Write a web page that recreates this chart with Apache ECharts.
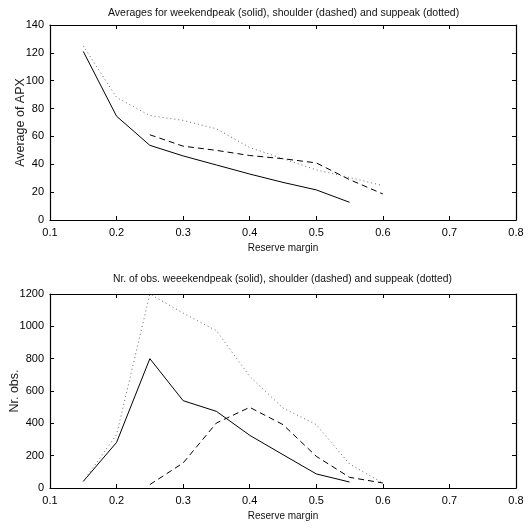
<!DOCTYPE html>
<html><head><meta charset="utf-8">
<script src="https://cdn.jsdelivr.net/npm/echarts@6/dist/echarts.min.js"></script>
<style>html,body{margin:0;padding:0;background:#fff}#c{width:530px;height:528px}</style>
</head><body><div id="c"></div>
<script>
const titleTop = "Averages for weekendpeak (solid), shoulder (dashed) and suppeak (dotted)";
const titleBottom = "Nr. of obs. weeekendpeak (solid), shoulder (dashed) and suppeak (dotted)";
const xName = "Reserve margin";
const yNameTop = "Average of APX";
const yNameBottom = "Nr. obs.";

const avgWeekendX = [0.15,0.2,0.25,0.3,0.35,0.4,0.45,0.5,0.55];
const avgWeekend  = [121,74.5,53.6,46,39.5,33,27,21.6,12.7];
const avgShoulderX = [0.25,0.3,0.35,0.4,0.45,0.5,0.55,0.6];
const avgShoulder  = [61.2,53,50,46.3,44,41,29,18.7];
const avgSuppeakX = [0.15,0.2,0.25,0.3,0.35,0.4,0.45,0.5,0.55,0.6];
const avgSuppeak  = [125,88,75,71.5,65.5,52,44,36,30.5,24.7];

const obsWeekendX = [0.15,0.2,0.25,0.3,0.35,0.4,0.45,0.5,0.55];
const obsWeekend  = [41,282,800,540,474,326,206,87,37];
const obsShoulderX = [0.25,0.3,0.35,0.4,0.45,0.5,0.55,0.6];
const obsShoulder  = [21,155,402,499,392,196,66,31];
const obsSuppeakX = [0.15,0.2,0.25,0.3,0.35,0.4,0.45,0.5,0.55,0.6];
const obsSuppeak  = [41,330,1200,1082,973,690,495,392,148,31];

const pair = (xs, ys) => xs.map((x, i) => [x, ys[i]]);
const font = "'Liberation Sans', Arial, sans-serif";
const lab = {color:'#000', fontFamily:font, fontSize:11};

function xAx(gi, pos, show){
  return {type:'value', gridIndex:gi, position:pos, min:0.1, max:0.8, interval:0.1,
    name: show ? xName : '', nameLocation:'middle', nameGap:23, nameMoveOverlap:false,
    nameTextStyle:{color:'#111', fontFamily:font, fontSize:10},
    axisLine:{show:true, onZero:false, lineStyle:{color:'#000', width:1.2}},
    axisTick:{show:true, inside:true, length:4, lineStyle:{color:'#000'}},
    axisLabel:{show:show, ...lab, margin:7, formatter:v=>(+v.toFixed(1)).toString()},
    splitLine:{show:false}};
}
function yAx(gi, pos, show, max, interval, name, gap, nfs){
  return {type:'value', gridIndex:gi, position:pos, min:0, max:max, interval:interval,
    name: show ? name : '', nameLocation:'middle', nameGap:gap, nameMoveOverlap:false,
    nameTextStyle:{color:'#222', fontFamily:font, fontSize:nfs},
    axisLine:{show:true, onZero:false, lineStyle:{color:'#000', width:1.2}},
    axisTick:{show:true, inside:true, length:4, lineStyle:{color:'#000'}},
    axisLabel:{show:show, ...lab, margin:6, formatter:v=>String(v)},
    splitLine:{show:false}};
}
function ser(xi, yi, data, type){
  const ls = {color: type==='dotted' ? '#666' : '#000', width: 1};
  if (type==='solid') ls.type = 'solid';
  if (type==='dashed') ls.type = [6,4];
  if (type==='dotted') ls.type = [1,3];
  return {type:'line', xAxisIndex:xi, yAxisIndex:yi, data:data, symbol:'none',
    lineStyle:ls, animation:false, silent:true};
}

const chart = echarts.init(document.getElementById('c'), null, {renderer:'canvas'});
chart.setOption({
  backgroundColor:'#fff',
  animation:false,
  title:[
    {text:titleTop, left:108, top:8, padding:0, textStyle:{fontFamily:font, fontSize:10.5, fontWeight:'normal', color:'#111'}},
    {text:titleBottom, left:113, top:274, padding:0, textStyle:{fontFamily:font, fontSize:10.3, fontWeight:'normal', color:'#111'}}
  ],
  grid:[
    {left:50, right:14, top:25, height:195, containLabel:false, outerBoundsMode:'none'},
    {left:50, right:14, top:294, height:194, containLabel:false, outerBoundsMode:'none'}
  ],
  xAxis:[xAx(0,'bottom',true), xAx(0,'top',false), xAx(1,'bottom',true), xAx(1,'top',false)],
  yAxis:[
    yAx(0,'left',true,140,20,yNameTop,23,12.5), yAx(0,'right',false,140,20,'',0,10),
    yAx(1,'left',true,1200,200,yNameBottom,29,12.5), yAx(1,'right',false,1200,200,'',0,10)
  ],
  series:[
    ser(0,0,pair(avgWeekendX,avgWeekend),'solid'),
    ser(0,0,pair(avgShoulderX,avgShoulder),'dashed'),
    ser(0,0,pair(avgSuppeakX,avgSuppeak),'dotted'),
    ser(2,2,pair(obsWeekendX,obsWeekend),'solid'),
    ser(2,2,pair(obsShoulderX,obsShoulder),'dashed'),
    ser(2,2,pair(obsSuppeakX,obsSuppeak),'dotted')
  ]
});
</script></body></html>
